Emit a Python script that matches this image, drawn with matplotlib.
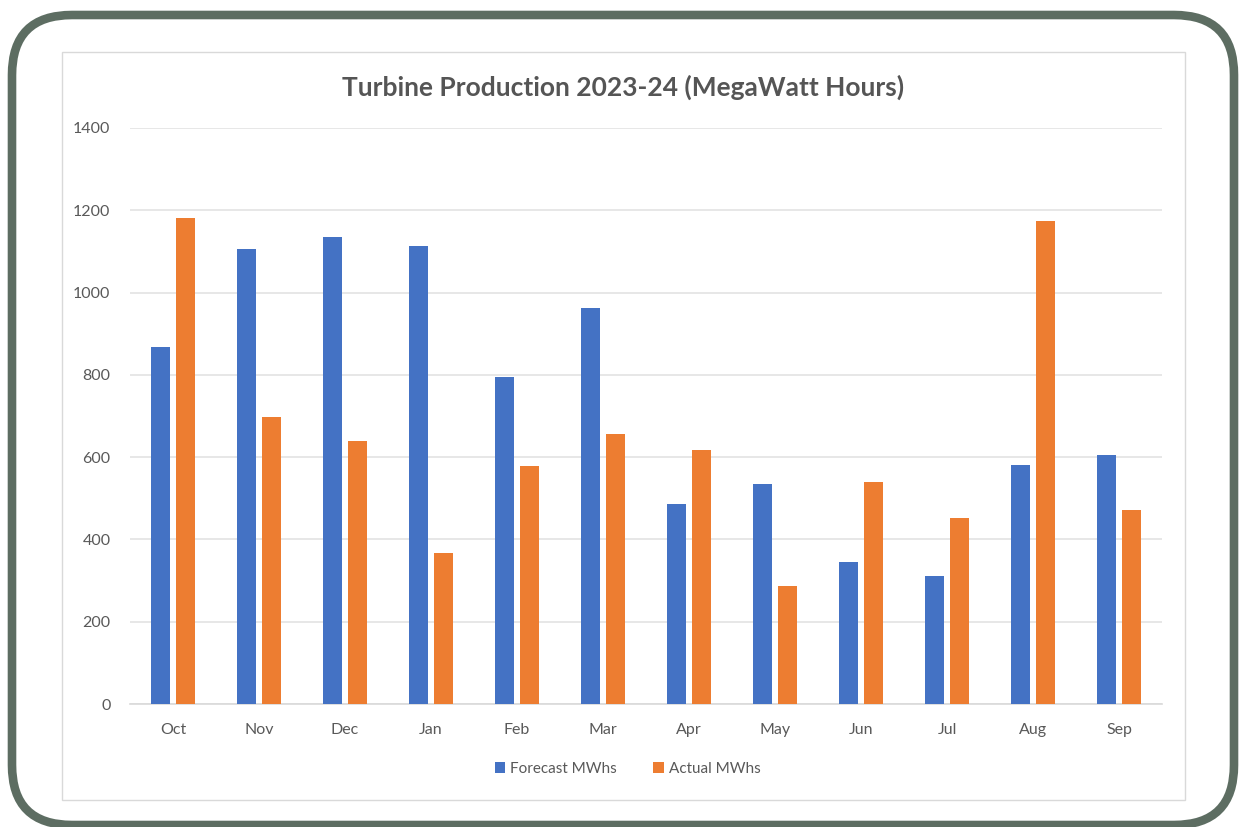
import matplotlib.pyplot as plt
import numpy as np
from matplotlib.patches import FancyBboxPatch, Rectangle

# data
months = ['Oct', 'Nov', 'Dec', 'Jan', 'Feb', 'Mar', 'Apr', 'May', 'Jun', 'Jul', 'Aug', 'Sep']
forecast = [868, 1106, 1135, 1113, 795, 963, 486, 535, 345, 311, 581, 605]
actual = [1181, 698, 639, 367, 578, 656, 617, 287, 540, 452, 1174, 472]
yticks = [0, 200, 400, 600, 800, 1000, 1200, 1400]

BLUE = '#4472C4'
ORANGE = '#ED7D31'
TXT = '#595959'

plt.rcParams['font.family'] = ['Lato', 'DejaVu Sans']

fig = plt.figure(figsize=(12.42, 8.27), dpi=100)
fig.patch.set_facecolor('white')

# outer rounded frame (inch coordinates), bottom runs off the image
frame = FancyBboxPatch((0.12, 0.02), 12.22, 8.10,
                       boxstyle='round,pad=0,rounding_size=0.6',
                       transform=fig.dpi_scale_trans,
                       facecolor='none', edgecolor='#5d6d62', linewidth=6.2,
                       zorder=5)
fig.patches.append(frame)

# light chart-area border
inner = Rectangle((0.62, 0.27), 11.23, 7.48, transform=fig.dpi_scale_trans,
                  facecolor='none', edgecolor='#d9d9d9', linewidth=1.0)
fig.patches.append(inner)

ax = fig.add_axes([130 / 1242, 1 - 704 / 827, 1032 / 1242, 576 / 827])
x = np.arange(len(months))
w = 0.22
ax.bar(x - 0.145, forecast, width=w, color=BLUE, label='Forecast MWhs', zorder=3)
ax.bar(x + 0.145, actual, width=w, color=ORANGE, label='Actual MWhs', zorder=3)

ax.set_xlim(-0.5, len(months) - 0.5)
ax.set_ylim(0, 1400)
ax.set_yticks(yticks)
ax.set_xticks(x)
ax.set_xticklabels(months)
ax.yaxis.grid(True, color='#e3e3e3', linewidth=1.2, zorder=0)
ax.set_axisbelow(True)
for s in ['top', 'right', 'left']:
    ax.spines[s].set_visible(False)
ax.spines['bottom'].set_color('#d9d9d9')
ax.spines['bottom'].set_linewidth(1.2)
ax.tick_params(axis='both', length=0, labelsize=11.5, labelcolor=TXT)
ax.tick_params(axis='y', pad=14)
ax.tick_params(axis='x', pad=14)

fig.text(0.502, 1 - 87 / 827, 'Turbine Production 2023-24 (MegaWatt Hours)',
         ha='center', va='center', fontsize=19, fontweight='bold', color='#555555')

ax.legend(loc='center', bbox_to_anchor=(0.482, -0.112), ncol=2, frameon=False,
          fontsize=11, labelcolor=TXT, handlelength=0.7, handleheight=0.7,
          handletextpad=0.3, columnspacing=2.4)

fig.savefig('out.png', dpi=100, facecolor='white')
